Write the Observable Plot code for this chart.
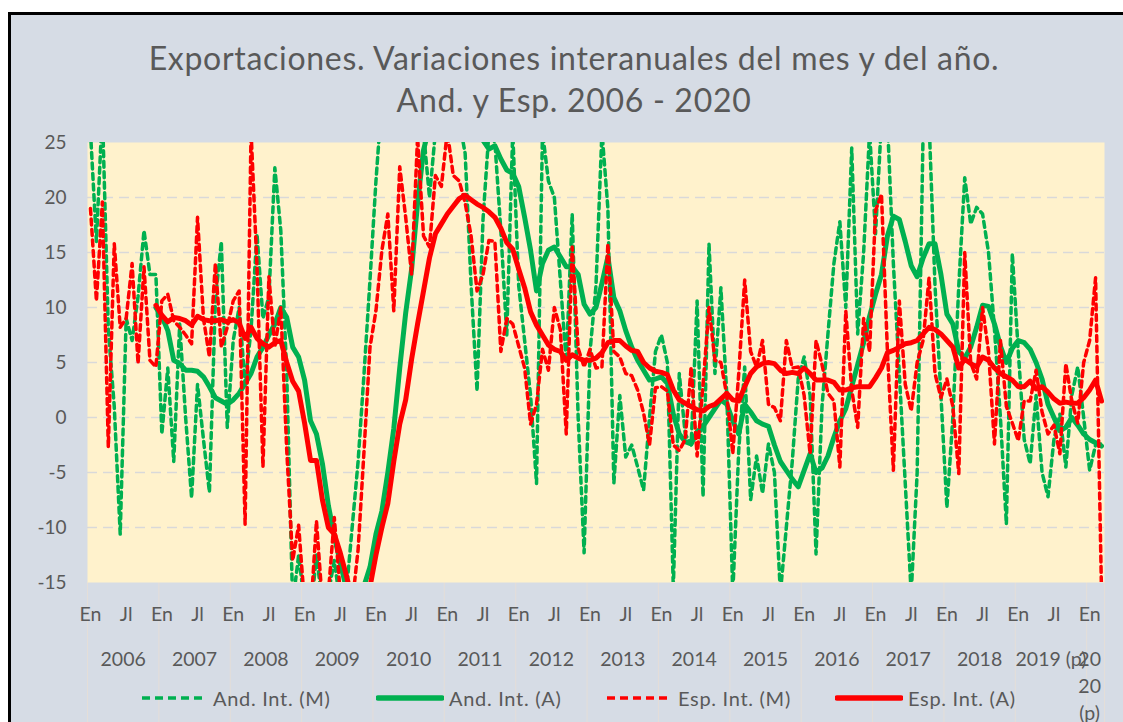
<!DOCTYPE html>
<html>
<head>
<meta charset="utf-8">
<script src="https://cdn.jsdelivr.net/npm/d3@7"></script>
<script src="https://cdn.jsdelivr.net/npm/@observablehq/plot@0.6"></script>
<style>
  html, body { margin: 0; padding: 0; background: #ffffff; width: 1123px; height: 722px; overflow: hidden; }
  #frame { position: absolute; left: 8px; top: 12px; width: 1200px; height: 800px; border-left: 3px solid #000; border-top: 3px solid #000; background: #d6dce5; }
  #chart { position: absolute; left: 0; top: 0; }
  #title { position: absolute; left: 0; top: 37px; width: 1148px; text-align: center; font-family: Lato, "Open Sans", sans-serif; font-size: 32px; letter-spacing: 0.7px; line-height: 42px; color: #595959; }
  #legend { position: absolute; left: 0; top: 685px; width: 1123px; height: 26px; font-family: Lato, "Open Sans", sans-serif; font-size: 20px; letter-spacing: 0.7px; color: #595959; }
  .item { position: absolute; top: 0; height: 26px; display: flex; align-items: center; white-space: nowrap; }
  .item svg { margin-right: 5px; }
</style>
</head>
<body>
<div id="frame"></div>
<div id="chart"></div>
<div id="title">Exportaciones. Variaciones interanuales del mes y del año.<br>And. y Esp. 2006 - 2020</div>
<div id="legend"></div>
<script>
// Months: Jan 2006 (index 0) .. Mar 2020 (index 170)
const tickLabels = ["En", "Jl"];
const years = ["2006","2007","2008","2009","2010","2011","2012","2013","2014","2015","2016","2017","2018","2019 (p)","20\n20\n(p)"];
const yTicks = [25, 20, 15, 10, 5, 0, -5, -10, -15];

// And. Int. (M) – monthly interannual variation, Andalucía
const andMes = [
 26,16,28,8,1,-10.6,9,7,11,17,13,13,
 -1.5,4.5,-4,8.5,0,-7.3,3,-2,-6.8,10.6,16,-0.9,
 7,10,3,8,16.7,9,11,22.7,17,4,-17,-12.5,
 -17,-18,-12.5,-17,-16,-13,-17,-16,-10,-4,4,12.5,
 21.5,29,32,34,36,35,33,30,26,20,26,29,
 30,29,27,24,12,2.4,18,26,25,17,7.5,26,
 12,7,2,-6,26,21.5,20,12.5,5,18.5,0,-12.3,
 6,12,26,19,-6,2,-3.6,-2.5,-4.5,-6.6,0,6,
 7.5,5,-15.5,4,-1.5,-2.5,10.6,-7.2,15.8,4,11.8,2,
 -16,-3,4.6,-7.5,-3.5,-6.9,-2.4,-5,-16,-10,-4,3.5,
 5.5,2,-12.4,1,7.6,14,17.8,10,24.5,7.6,15,26,
 16.7,27,27,14,4,-6,-16,-5,26,27,12,2,
 -8.2,0,12,21.8,17.6,19.1,18.5,15,8,0,-9.7,14.9,
 6,-2,-4.2,2,-5,-7.2,-2,0.3,-4.5,2,4.6,0,
 -4.8,-2.5,-2.4
];
// And. Int. (A) – interannual variation of the year (cumulative), Andalucía
const andAnual = [
 null,null,null,null,null,null,null,null,null,null,null,10,
 9.2,7.9,5.2,4.9,4.3,4.3,4.2,3.7,2.8,1.8,1.5,1.2,
 1.6,2.2,3.1,4.0,5.5,6.4,7.5,8.5,10.0,9.1,6.4,5.5,
 3.4,-0.3,-1.5,-4.2,-8,-10.8,-13.2,-15.5,-17.5,-17,-15.3,-13.6,
 -10.6,-8.5,-5,-1,4.5,9.5,13.5,19.5,24.3,26.5,27.5,28.5,
 29,29,28,27,26.5,25.8,25.2,24.4,24.7,23.5,22.5,22.2,
 21.0,18.2,15.2,11.5,14,15.2,15.5,14.6,13.7,13.7,13.0,10.3,
 9.4,10.0,12.2,14.6,10.9,9.7,7.9,6.4,5.2,4.3,3.4,3.5,
 3.7,3.1,0.3,-1.5,-2.2,-2.4,-1.3,-0.8,0,0.8,1.6,1.2,
 -0.3,-1.5,1.2,0.5,-0.3,-0.6,-0.8,-2.5,-4.0,-4.8,-5.6,-6.3,
 -4.8,-3.3,-5.0,-4.6,-3.5,-1.8,-0.3,0.8,2.8,4.8,6.8,9.2,
 11.2,13.0,16.5,18.3,18.0,16.0,13.8,12.8,14.5,15.8,15.8,13.0,
 9.4,8.5,6.0,5.4,6.4,8.2,10.2,10.1,8.5,6.5,5.0,6.3,
 7.0,6.8,6.2,5.0,3.5,1.2,0,-1.2,-0.9,0,-0.7,-1.5,
 -2.0,-2.3,-2.6
];
// Esp. Int. (M) – monthly interannual variation, España
const espMes = [
 19,10.6,19.6,-2.7,15.8,8.2,9,14,4.9,13.7,5.2,4.6,
 10.6,11.2,8.8,8.2,7.5,6.7,18.2,9,5.5,14,6.4,8.2,
 10.6,11.5,-9.7,26,13.7,-4.5,12.8,6.4,10,-3,-13,-9.8,
 -17,-18,-9.4,-17,-16,-9.1,-16,-18,-17,-12,-3,6.4,
 9.7,15.2,18.5,9.7,22.8,18.2,13,25.5,16.5,15.5,22,21,
 26,22,21.5,19.5,16.5,11.5,13,16.1,16,6,9,8.5,
 6.5,4.5,-0.6,1.2,6.2,4.3,10,8,-1.5,15.5,6.3,4.6,
 6.2,4.5,4.6,15.8,6,5.5,4,3.8,2.5,0.4,-2.5,2.7,
 2.8,2.4,-2.5,-3,-2,4.6,-3.5,3,10,5.2,5,2,
 -3.3,4,12.5,6,4.6,7,1.2,0.9,-0.3,7,4.5,4.6,
 2,-3.3,7,4.8,2.2,1.5,-4.5,9.7,2.5,-0.9,9,6,
 18.8,20.3,6,-4.8,10.6,3,0.6,5,7,12.7,4,1.8,
 3.5,1,-5.1,15,5,3.5,10,6,-2.4,7,1,-0.5,
 -2.1,1.5,1.5,4.3,0.5,-1.5,-0.7,-3.3,4.9,1.5,-0.5,5,
 7,12.7,-16
];
// Esp. Int. (A) – interannual variation of the year (cumulative), España
const espAnual = [
 null,null,null,null,null,null,null,null,null,null,null,10.2,
 9.3,8.7,9.1,9.0,8.8,8.4,9.2,8.9,8.8,8.8,8.9,8.7,
 8.9,8.6,7.2,8.2,7.2,6.7,6.4,6.8,7.0,5.0,3.3,2.4,
 -0.5,-3.9,-3.9,-7.5,-10.0,-10.6,-12.3,-14.3,-16.5,-18,-17,-15.4,
 -12.5,-10.0,-7.8,-4.0,-0.6,1.6,5.3,8.5,11.5,14.5,16.7,17.6,
 18.5,19.2,19.9,20.2,19.8,19.4,19.1,18.7,18.2,17.2,15.9,15.3,
 13.5,11.8,9.6,8.4,7.5,6.6,6.2,6.0,5.2,5.7,5.4,5.2,
 5.2,5.4,5.9,6.8,7.0,7.0,6.5,6.1,6.0,5.0,4.5,4.2,
 4.1,3.9,2.5,1.6,1.3,1.0,0.7,0.6,1.0,1.2,1.7,2.2,
 1.6,1.5,2.8,4.0,4.6,4.9,5.0,4.9,4.3,4.0,4.1,4.0,
 4.5,4.0,3.4,3.4,3.4,3.2,2.5,2.5,2.7,2.8,2.8,2.8,
 3.6,4.5,5.9,6.1,6.4,6.7,6.8,7.0,7.6,8.2,8.0,7.6,
 7.0,6.4,4.5,5.3,4.9,4.6,5.5,5.2,4.5,4.0,3.7,3.4,
 2.8,2.8,3.3,2.6,2.8,2.3,1.7,1.3,1.4,1.3,1.3,1.8,
 2.5,3.4,1.5
];

const GREEN = "#00b050", RED = "#ff0000";
const nMonths = andMes.length;
const toRows = arr => arr.map((v, i) => ({i, v}));
const monthTicks = d3.range(0, nMonths, 6);
const yearPos = years.map((y, k) => k < 14 ? 12 * k + 5.5 : 12 * k);
const yearBounds = d3.range(0, 15).map(k => 12 * k - 0.5).concat([nMonths - 0.5]);
const gridVals = [20, 15, 10, 5, 0, -5, -10];

const chart = Plot.plot({
  width: 1123,
  height: 722,
  marginLeft: 87,
  marginRight: 19,
  marginTop: 142,
  marginBottom: 140,
  x: {domain: [-0.5, nMonths - 0.5], axis: null},
  y: {domain: [-15, 25], axis: null},
  style: {background: "transparent", color: "#595959", fontFamily: "Lato, 'Open Sans', sans-serif", fontSize: "19px", overflow: "visible"},
  marks: [
    Plot.ruleX(yearBounds, {x: d => d, y1: -15, y2: -28, stroke: "#e4ded8", strokeWidth: 1}),
    Plot.frame({fill: "#fff2cc", stroke: null}),
    Plot.ruleY(gridVals, {y: d => d, stroke: "#d9d9d9", strokeWidth: 1.5, strokeDasharray: "10,6"}),
    Plot.line(toRows(andMes), {x: "i", y: "v", stroke: GREEN, strokeWidth: 3.5, strokeDasharray: "6,4.5", clip: true}),
    Plot.line(toRows(andAnual), {x: "i", y: "v", stroke: GREEN, strokeWidth: 5, strokeLinejoin: "round", clip: true}),
    Plot.line(toRows(espMes), {x: "i", y: "v", stroke: RED, strokeWidth: 3.5, strokeDasharray: "6,4.5", clip: true}),
    Plot.line(toRows(espAnual), {x: "i", y: "v", stroke: RED, strokeWidth: 5, strokeLinejoin: "round", clip: true}),
    Plot.text(yTicks, {x: -0.5, y: d => d, text: d => String(d), textAnchor: "end", dx: -21, fill: "#595959", fontSize: 19}),
    Plot.text(monthTicks, {x: d => d, y: -15, dy: 32, text: d => tickLabels[(d / 6) % 2], fill: "#595959", fontSize: 19.5}),
    Plot.text(years, {x: (d, k) => yearPos[k], y: -15, dy: 64, lineAnchor: "top", lineHeight: 1.4, text: d => d, fill: "#595959", fontSize: 19.5})
  ]
});
document.getElementById("chart").appendChild(chart);

// Legend
const legendItems = [
  {label: "And. Int. (M)", color: GREEN, dash: true, left: 140},
  {label: "And. Int. (A)", color: GREEN, dash: false, left: 376},
  {label: "Esp. Int. (M)", color: RED, dash: true, left: 605},
  {label: "Esp. Int. (A)", color: RED, dash: false, left: 835}
];
const legend = document.getElementById("legend");
for (const it of legendItems) {
  const div = document.createElement("div");
  div.className = "item";
  div.style.left = it.left + "px";
  div.innerHTML = `<svg width="68" height="10"><line x1="2" y1="5" x2="66" y2="5" stroke="${it.color}" stroke-width="${it.dash ? 3.5 : 5.5}" ${it.dash ? 'stroke-dasharray="8,5"' : 'stroke-linecap="round"'}/></svg><span>${it.label}</span>`;
  legend.appendChild(div);
}
</script>
</body>
</html>
